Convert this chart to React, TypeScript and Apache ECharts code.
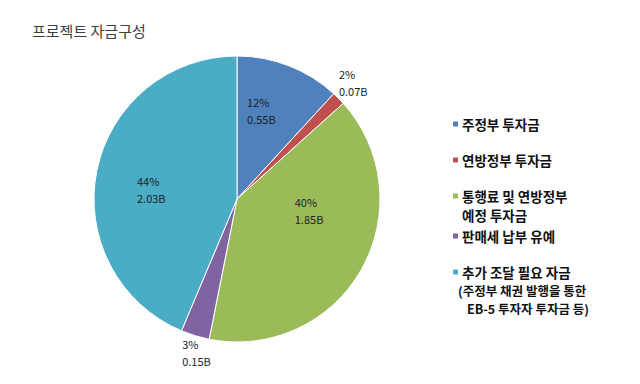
import React, { useEffect, useRef } from "react";
import * as echarts from "echarts";

const categories = [
  "주정부 투자금",
  "연방정부 투자금",
  "통행료 및 연방정부",
  "판매세 납부 유예",
  "추가 조달 필요 자금",
];
const values = [0.55, 0.07, 1.85, 0.15, 2.03];
const percentLabels = ["12%", "2%", "40%", "3%", "44%"];
const valueLabels = ["0.55B", "0.07B", "1.85B", "0.15B", "2.03B"];
const extraLegendLines: string[][] = [[], [], ["예정 투자금"], [], ["(주정부 채권 발행을 통한", "EB-5 투자자 투자금 등)"]];

const colors = ["#4F81BD", "#C0504D", "#9BBB59", "#8064A2", "#4BACC6"];
const labelOffsets = [
  [-1, -19],
  [65, -64],
  [9, -25],
  [-17, 82],
  [-11, 5],
];
const legendTops = [117, 153, 189, 229, 265];
const extraLeft = [[], [], [462], [], [458, 467]];
const extraTops = [[], [], [207], [], [284, 302]];

const FONT = "'Noto Sans CJK KR', 'Noto Sans', sans-serif";

export default function App() {
  const ref = useRef<HTMLDivElement>(null);
  useEffect(() => {
    if (!ref.current) return;
    const chart = echarts.init(ref.current, null, { renderer: "svg" });
    const legends = categories.map((name, i) => ({
      orient: "vertical",
      left: 451,
      top: legendTops[i],
      padding: 0,
      itemWidth: 7,
      itemHeight: 7,
      itemGap: 0,
      icon: "rect",
      selectedMode: false,
      data: [name],
      textStyle: {
        fontFamily: FONT,
        fontSize: 13.5,
        fontWeight: "bold",
        color: "#111",
        lineHeight: 14,
        padding: [0, 0, 0, -2],
      },
    }));
    const graphics: any[] = [];
    extraLegendLines.forEach((lines, i) => {
      lines.forEach((t, j) => {
        const small = i === 4;
        graphics.push({
          type: "text",
          left: (extraLeft[i] as number[])[j],
          top: (extraTops[i] as number[])[j],
          style: {
            text: t,
            fontFamily: FONT,
            fontSize: small ? 12.5 : 13.5,
            lineHeight: small ? 13 : 15,
            fontWeight: "bold",
            fill: "#111",
          },
        });
      });
    });
    chart.setOption({
      animation: false,
      title: {
        text: "프로젝트 자금구성",
        left: 27,
        top: 18,
        textStyle: { fontFamily: FONT, fontSize: 15, fontWeight: "normal", color: "#404040" },
      },
      legend: legends,
      graphic: graphics,
      series: [
        {
          type: "pie",
          center: [237, 199],
          radius: [0, 143],
          startAngle: 90,
          clockwise: true,
          itemStyle: { borderColor: "#fff", borderWidth: 1 },
          label: {
            show: true,
            position: "inside",
            fontFamily: FONT,
            fontSize: 11,
            color: "#222",
            formatter: (p: any) => `{a|${percentLabels[p.dataIndex]}}\n{a|${valueLabels[p.dataIndex]}}`,
            rich: {
              a: { width: 32, align: "left", fontFamily: FONT, fontSize: 11, color: "#222", lineHeight: 17 },
            },
          },
          labelLine: { show: false },
          labelLayout: (p: any) => ({ dx: labelOffsets[p.dataIndex][0], dy: labelOffsets[p.dataIndex][1] }),
          emphasis: { disabled: true },
          data: categories.map((name, i) => ({ name, value: values[i], itemStyle: { color: colors[i] } })),
        },
      ],
    });
    return () => chart.dispose();
  }, []);
  return <div ref={ref} style={{ width: 640, height: 384, margin: -8 }} />;
}
